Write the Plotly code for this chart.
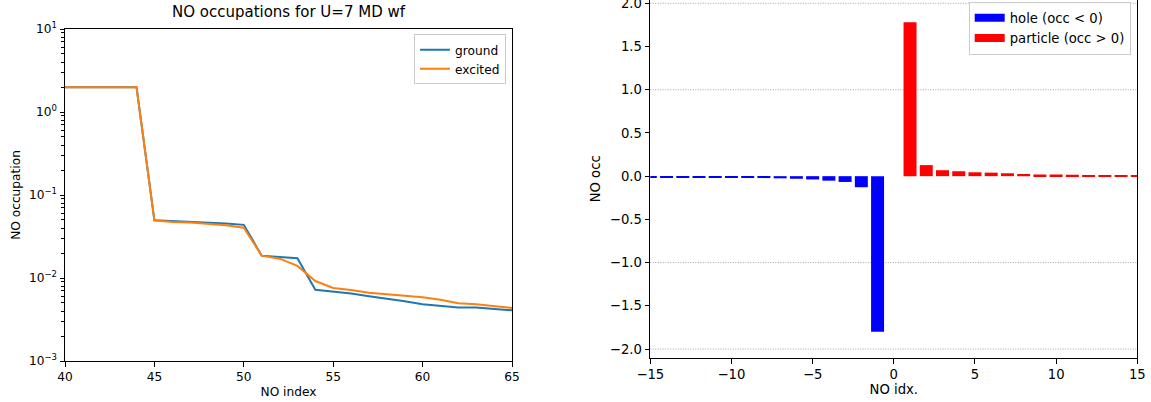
import plotly.graph_objects as go

# ---- left panel: natural-orbital occupations (log scale) ----
no_index = list(range(40, 66))
occ_ground = [1.99, 1.99, 1.99, 1.99, 1.99,
              0.0495, 0.0486, 0.0477, 0.0466, 0.0455, 0.0437,
              0.0186, 0.0179, 0.0173,
              0.00723, 0.00684, 0.00650, 0.00601, 0.00563, 0.00523,
              0.00482, 0.00462, 0.00440, 0.00440, 0.00420, 0.00408]
occ_excited = [1.99, 1.99, 1.99, 1.99, 1.99,
               0.0495, 0.0472, 0.0465, 0.0446, 0.0433, 0.0404,
               0.0186, 0.0171, 0.0140,
               0.00920, 0.00758, 0.00718, 0.00665, 0.00635, 0.00612,
               0.00585, 0.00548, 0.00495, 0.00482, 0.00460, 0.00435]
log_tick_vals = [1e-3, 1e-2, 1e-1, 1e0, 1e1]
log_tick_text = ["10<sup>\u22123</sup>", "10<sup>\u22122</sup>", "10<sup>\u22121</sup>",
                 "10<sup>0</sup>", "10<sup>1</sup>"]

# ---- right panel: hole / particle occupation differences ----
hole_idx = list(range(-15, 0))
hole_occ = [-0.011, -0.012, -0.013, -0.014, -0.015, -0.017, -0.019, -0.022,
            -0.025, -0.030, -0.038, -0.052, -0.067, -0.128, -1.80]
particle_idx = list(range(1, 16))
particle_occ = [1.78, 0.128, 0.069, 0.057, 0.045, 0.041, 0.034, 0.024,
                0.020, 0.018, 0.016, 0.014, 0.013, 0.012, 0.011]
grid_levels = [-2.0, -1.0, 1.0, 2.0]

W, H = 1151, 402
FONT = "DejaVu Sans"
LEFT_PX = 12.2      # text size in the log panel
RIGHT_PX = 13.2     # text size in the bar panel
TITLE_PX = 15

BLUE_MPL = "#1f77b4"
ORANGE_MPL = "#ff7f0e"

fig = go.Figure()

fig.add_trace(go.Scatter(x=no_index, y=occ_ground, mode="lines", name="ground",
                         line=dict(color=BLUE_MPL, width=2),
                         xaxis="x", yaxis="y", legend="legend"))
fig.add_trace(go.Scatter(x=no_index, y=occ_excited, mode="lines", name="excited",
                         line=dict(color=ORANGE_MPL, width=2),
                         xaxis="x", yaxis="y", legend="legend"))

fig.add_trace(go.Bar(x=hole_idx, y=hole_occ, width=0.8, marker=dict(color="blue", line=dict(width=0)),
                     showlegend=False, xaxis="x2", yaxis="y2"))
fig.add_trace(go.Bar(x=particle_idx, y=particle_occ, width=0.8, marker=dict(color="red", line=dict(width=0)),
                     showlegend=False, xaxis="x2", yaxis="y2"))

# legend entries drawn as thick line swatches (patch-like)
fig.add_trace(go.Scatter(x=[None], y=[None], mode="lines", name="hole (occ < 0)",
                         line=dict(color="blue", width=8), xaxis="x2", yaxis="y2", legend="legend2"))
fig.add_trace(go.Scatter(x=[None], y=[None], mode="lines", name="particle (occ > 0)",
                         line=dict(color="red", width=8), xaxis="x2", yaxis="y2", legend="legend2"))

for lvl in grid_levels:
    fig.add_shape(type="line", xref="x2 domain", x0=0, x1=1, yref="y2", y0=lvl, y1=lvl,
                  line=dict(color="#8c8c8c", width=0.8, dash="1px,1.5px"), layer="below")


def axis_style(size, ticklen):
    return dict(showline=True, linecolor="black", linewidth=1, ticks="outside",
                ticklen=ticklen, tickwidth=1, tickcolor="black", showgrid=False,
                zeroline=False, automargin=False, ticklabeloverflow="allow",
                tickfont=dict(family=FONT, size=size, color="black"))


def px_x(p):
    return p / W


def px_y(p):
    return 1 - p / H


left_ax = axis_style(LEFT_PX, 4.5)
right_ax = axis_style(RIGHT_PX, 4.8)

fig.update_layout(
    width=W, height=H,
    margin=dict(l=0, r=0, t=0, b=0, autoexpand=False),
    paper_bgcolor="white", plot_bgcolor="white",
    font=dict(family=FONT, size=LEFT_PX, color="black"),
    barmode="overlay",
    title=dict(text="NO occupations for U=7 MD wf", x=(65 + 512) / 2 / W, xanchor="center",
               y=px_y(12), yanchor="middle", font=dict(family=FONT, size=TITLE_PX, color="black")),
    xaxis=dict(domain=[px_x(65), px_x(512)], range=[40, 65], dtick=5, tick0=40, mirror=True,
               anchor="y", title=dict(text="NO index", standoff=4,
                                      font=dict(family=FONT, size=LEFT_PX)), **left_ax),
    yaxis=dict(domain=[px_y(361), px_y(29)], type="log", range=[-3, 1], mirror=True,
               tickmode="array", tickvals=log_tick_vals, ticktext=log_tick_text,
               minor=dict(ticks="outside", ticklen=2.6, tickwidth=0.8, tickcolor="black",
                          tickvals=[m * 10 ** k for k in range(-3, 1) for m in range(2, 10)]),
               anchor="x", title=dict(text="NO occupation", standoff=5,
                                      font=dict(family=FONT, size=LEFT_PX)), **left_ax),
    xaxis2=dict(domain=[px_x(650.3), px_x(1137.3)], range=[-15, 15], dtick=5, tick0=-15,
                mirror=False, anchor="y2",
                title=dict(text="NO idx.", standoff=3, font=dict(family=FONT, size=RIGHT_PX)),
                **right_ax),
    yaxis2=dict(domain=[px_y(357.7), 1.0], range=[-2.1, 2.038], dtick=0.5, tick0=0,
                tickformat=".1f", mirror=True, anchor="x2",
                title=dict(text="NO occ", standoff=6, font=dict(family=FONT, size=RIGHT_PX)),
                **right_ax),
    legend=dict(x=px_x(506), y=px_y(34.3), xanchor="right", yanchor="top",
                bgcolor="rgba(255,255,255,0.8)", bordercolor="#cccccc", borderwidth=1,
                font=dict(family=FONT, size=LEFT_PX, color="black"), tracegroupgap=0),
    legend2=dict(x=px_x(1130.7), y=px_y(1.7), xanchor="right", yanchor="top",
                 bgcolor="rgba(255,255,255,0.8)", bordercolor="#cccccc", borderwidth=1,
                 font=dict(family=FONT, size=RIGHT_PX, color="black"), tracegroupgap=0),
)

fig.write_html("out.html")
